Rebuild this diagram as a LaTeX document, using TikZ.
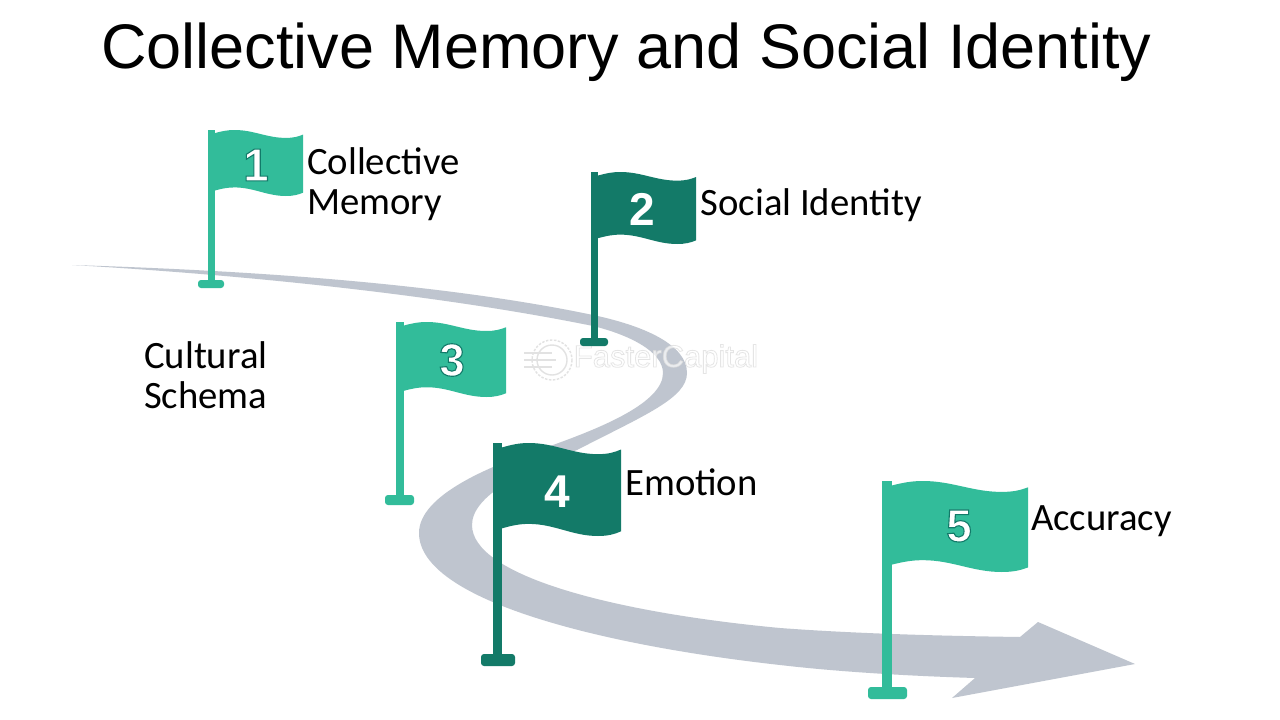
\documentclass[tikz,border=0pt]{standalone}
\usepackage{fontspec}
\setmainfont{Carlito}
\newfontfamily\titlefont{Liberation Sans}
\newfontfamily\digitfont{Liberation Sans}[BoldFont={Liberation Sans Bold}]
\definecolor{roadgrey}{HTML}{BFC5CF}
\definecolor{flaglight}{HTML}{32BC9A}
\definecolor{flagdark}{HTML}{137A68}
\definecolor{markgrey}{HTML}{E2E2E2}
\newcommand{\haloon}{\special{pdf:code 2 Tr 1.1 w 0.07 0.48 0.41 RG}}
\newcommand{\markon}{\special{pdf:code 2 Tr 0.8 w 0.86 0.86 0.86 RG}}
\tikzset{
  titletext/.style={inner sep=0pt,anchor=base west,font=\titlefont\fontsize{63}{63}\selectfont},
  label/.style={inner sep=0pt,anchor=base west,align=left,text=black,font=\fontsize{38.7}{40}\selectfont},
  digit/.style={inner sep=0pt,text=white,font=\digitfont\bfseries\fontsize{46}{46}\selectfont},
}
% #1 colour, #2 pole left, #3 pole top, #4 banner width, #5 banner height, #6 pole width,
% #7 base left, #8 base right, #9 base top
\newcommand{\flagdraw}[9]{%
  \begin{scope}[shift={(#2,#3)},xscale=#4/100,yscale=#5/100]
    \fill[#1] (0,0) -- (6.5,0) -- (6.5,5)
      .. controls (14,2) and (20,0) .. (28,0)
      .. controls (48,0) and (62,12) .. (82,12)
      .. controls (90,12) and (95,10) .. (100,7)
      -- (100,95)
      .. controls (95,98) and (90,100) .. (82,100)
      .. controls (62,100) and (48,87) .. (28,87)
      .. controls (20,87) and (14,89) .. (6.5,92)
      -- (0,92) -- cycle;
  \end{scope}
  \fill[#1] (#2,#3) rectangle ++(#6,#9-#3+2);
  \fill[#1,rounded corners=3pt] (#7,#9) rectangle (#8,#9+\basehgt);
}
\begin{document}
\begin{tikzpicture}[x=1pt,y=-1pt]
\useasboundingbox (0,0) rectangle (1280,720);
\fill[white] (0,0) rectangle (1280,720);
% road
\fill[roadgrey] (72,265)
  .. controls (230,270) and (430,281) .. (593,315)
  .. controls (645,326) and (687,345) .. (687,373)
  .. controls (687,398) and (645,415) .. (577,450)
  .. controls (525,470) and (472,495) .. (472,525)
  .. controls (472,575) and (610,612) .. (780,628)
  .. controls (860,634) and (950,636) .. (1020,637)
  -- (1038,622) -- (1135,664) -- (952,698) -- (975,678)
  .. controls (910,676) and (840,672) .. (780,665)
  .. controls (600,645) and (419,600) .. (419,533)
  .. controls (419,495) and (490,465) .. (553,445)
  .. controls (600,428) and (663,403) .. (663,373)
  .. controls (663,352) and (630,335) .. (593,326)
  .. controls (430,293) and (230,274) .. (72,265)
  -- cycle;
% watermark
\node[inner sep=0pt,opacity=.7,text=white,font=\titlefont\fontsize{31}{31}\selectfont] (mark) at (666,359) {\markon FasterCapital};
\draw[markgrey,line width=1.4pt,dash pattern=on 2.5pt off 1.5pt] (552,360) circle (20);
\draw[markgrey,line width=1.4pt] (552,360) circle (15);
\draw[markgrey,line width=1.2pt] (524,353) -- (552,353) (524,360) -- (556,360) (524,367) -- (552,367);
% flags
\def\basehgt{8}
\flagdraw{flaglight}{208}{130}{95}{66}{6.5}{198}{224}{280}
\def\basehgt{8}
\flagdraw{flagdark}{591}{172}{105}{72}{7}{580}{608}{338}
\def\basehgt{10}
\flagdraw{flaglight}{396}{322}{110}{75}{7.5}{385}{414}{495}
\def\basehgt{12}
\flagdraw{flagdark}{493}{443}{128}{93}{9}{481}{515}{654}
\def\basehgt{12}
\flagdraw{flaglight}{882}{481}{146}{91}{10}{868}{907}{687}
% digits
\node[digit] (d1) at (256,165) {\haloon 1};
\node[digit] (d2) at (642,209) {2};
\node[digit] (d3) at (452,360) {\haloon 3};
\node[digit] (d4) at (557,492) {4};
\node[digit] (d5) at (959,526) {\haloon 5};
% texts
\node[titletext] (title) at (101,68) {Collective Memory and Social Identity};
\node[label] (l1a) at (307,174) {Collective};
\node[label] (l1b) at (307,214) {Memory};
\node[label] (l2) at (700.5,215) {Social Identity};
\node[label] (l3a) at (144,368) {Cultural};
\node[label] (l3b) at (144,408) {Schema};
\node[label] (l4) at (625,495) {Emotion};
\node[label] (l5) at (1031,530) {Accuracy};
\end{tikzpicture}
\end{document}
